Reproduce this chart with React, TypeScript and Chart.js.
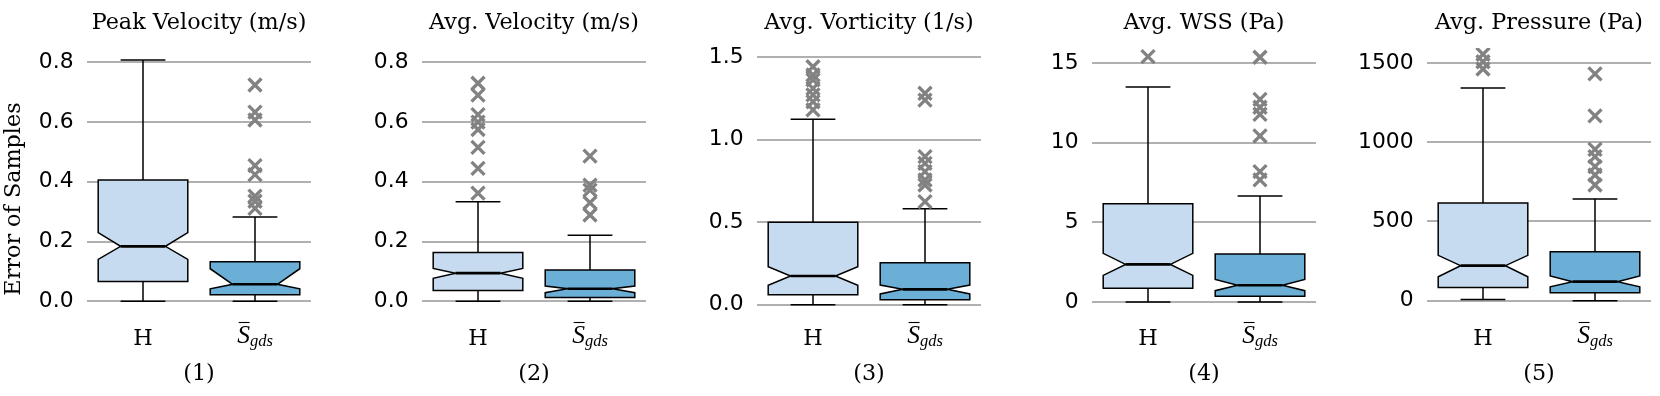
import React, { useEffect, useRef } from "react";
import { Chart, registerables } from "chart.js";

Chart.register(...registerables);

// ---------- data ----------
const panelTitles = [
  "Peak Velocity (m/s)",
  "Avg. Velocity (m/s)",
  "Avg. Vorticity (1/s)",
  "Avg. WSS (Pa)",
  "Avg. Pressure (Pa)",
];
const panelCaptions = ["(1)", "(2)", "(3)", "(4)", "(5)"];
const yAxisLabel = "Error of Samples";

// categories: "H" and "S̄_gds"
const categoryMain = ["H", "S"];
const categorySub = ["", "gds"];
const categoryPos = [1, 2];

// H statistics (per panel)
const hWhiskerLow = [0.0, 0.0, 0.0, 0.0, 8];
const hQ1 = [0.066, 0.036, 0.061, 0.86, 84];
const hNotchLow = [0.14, 0.077, 0.118, 1.67, 151];
const hMedian = [0.184, 0.094, 0.174, 2.36, 221];
const hNotchHigh = [0.23, 0.11, 0.23, 3.05, 286];
const hQ3 = [0.406, 0.163, 0.5, 6.17, 616];
const hWhiskerHigh = [0.808, 0.333, 1.124, 13.49, 1342];
const hOutliers = [
  [],
  [0.73, 0.69, 0.625, 0.6, 0.575, 0.515, 0.445, 0.362],
  [1.443, 1.393, 1.363, 1.312, 1.272, 1.231, 1.181],
  [15.4],
  [1555, 1508, 1462],
];

// S̄_gds statistics (per panel)
const sWhiskerLow = [0.0, 0.0, 0.0, 0.0, 0];
const sQ1 = [0.022, 0.013, 0.03, 0.36, 50];
const sNotchLow = [0.042, 0.029, 0.065, 0.71, 88];
const sMedian = [0.057, 0.042, 0.093, 1.05, 120];
const sNotchHigh = [0.109, 0.051, 0.119, 1.42, 156];
const sQ3 = [0.1326, 0.105, 0.255, 3.01, 309];
const sWhiskerHigh = [0.282, 0.221, 0.582, 6.65, 642];
const sOutliers = [
  [0.724, 0.633, 0.607, 0.454, 0.424, 0.352, 0.335, 0.311],
  [0.486, 0.389, 0.372, 0.33, 0.289],
  [1.282, 1.241, 0.898, 0.857, 0.807, 0.756, 0.726, 0.625],
  [15.36, 12.72, 12.22, 11.78, 10.42, 8.18, 7.66],
  [1431, 1166, 955, 909, 846, 793, 730],
];

// y axes
const yTicks = [
  [0, 0.2, 0.4, 0.6, 0.8],
  [0, 0.2, 0.4, 0.6, 0.8],
  [0, 0.5, 1.0, 1.5],
  [0, 5, 10, 15],
  [0, 500, 1000, 1500],
];
const yTickLabels = [
  ["0.0", "0.2", "0.4", "0.6", "0.8"],
  ["0.0", "0.2", "0.4", "0.6", "0.8"],
  ["0.0", "0.5", "1.0", "1.5"],
  ["0", "5", "10", "15"],
  ["0", "500", "1000", "1500"],
];
const yMin = [-0.0405, -0.0405, -0.0528, -0.7155, -80.1];
const yMax = [0.8479, 0.8479, 1.5567, 15.94, 1594.6];

// ---------- style ----------
const H_FILL = "#c6dbef";
const S_FILL = "#6baed6";
const OUTLIER = "#828282";
const GRID = "#b0b0b0";
const SERIF = "'DejaVu Serif', serif";
const SANS = "'DejaVu Sans', sans-serif";
const MATH = "'Liberation Serif', serif";
const SERIF_SIZE = 22.3;
const TICK_SIZE = 21.8;

const PANEL_STEP = 335;
const SIDE = 87;
const PLOT_W = 224;
const CANVAS_W = PLOT_W + 2 * SIDE;
const CANVAS_H = 396;
const PLOT_TOP = 48;
const PLOT_BOTTOM = 313.4;

const BOX_HALF = 0.4;
const CAP_HALF = 0.2;
const NOTCH_HALF = 0.2;

function makeConfig(i: number): any {
  const stats = [
    {
      pos: categoryPos[0],
      fill: H_FILL,
      v: [hWhiskerLow[i], hQ1[i], hNotchLow[i], hMedian[i], hNotchHigh[i], hQ3[i], hWhiskerHigh[i]],
    },
    {
      pos: categoryPos[1],
      fill: S_FILL,
      v: [sWhiskerLow[i], sQ1[i], sNotchLow[i], sMedian[i], sNotchHigh[i], sQ3[i], sWhiskerHigh[i]],
    },
  ];

  const boxPlugin = {
    id: "notchedBoxes",
    beforeDatasetsDraw(chart: any) {
      const { ctx } = chart;
      const xs = chart.scales.x;
      const ys = chart.scales.y;
      ctx.save();
      ctx.lineJoin = "miter";
      ctx.strokeStyle = "#000";
      for (const g of stats) {
        const [wl, q1, nl, md, nh, q3, wh] = g.v.map((v: number) => ys.getPixelForValue(v));
        const xc = xs.getPixelForValue(g.pos);
        const xl = xs.getPixelForValue(g.pos - BOX_HALF);
        const xr = xs.getPixelForValue(g.pos + BOX_HALF);
        const cl = xs.getPixelForValue(g.pos - CAP_HALF);
        const cr = xs.getPixelForValue(g.pos + CAP_HALF);
        const nl2 = xs.getPixelForValue(g.pos - NOTCH_HALF);
        const nr2 = xs.getPixelForValue(g.pos + NOTCH_HALF);
        // whiskers
        ctx.lineWidth = 1.5;
        ctx.beginPath();
        ctx.moveTo(xc, q3);
        ctx.lineTo(xc, wh);
        ctx.moveTo(cl, wh);
        ctx.lineTo(cr, wh);
        ctx.moveTo(xc, q1);
        ctx.lineTo(xc, wl);
        ctx.moveTo(cl, wl);
        ctx.lineTo(cr, wl);
        ctx.stroke();
        // notched box
        ctx.beginPath();
        ctx.moveTo(xl, q1);
        ctx.lineTo(xl, nl);
        ctx.lineTo(nl2, md);
        ctx.lineTo(xl, nh);
        ctx.lineTo(xl, q3);
        ctx.lineTo(xr, q3);
        ctx.lineTo(xr, nh);
        ctx.lineTo(nr2, md);
        ctx.lineTo(xr, nl);
        ctx.lineTo(xr, q1);
        ctx.closePath();
        ctx.fillStyle = g.fill;
        ctx.fill();
        ctx.lineWidth = 1.5;
        ctx.stroke();
        // median
        ctx.lineWidth = 2.7;
        ctx.beginPath();
        ctx.moveTo(nl2, md);
        ctx.lineTo(nr2, md);
        ctx.stroke();
      }
      ctx.restore();
    },
  };

  const textPlugin = {
    id: "panelTexts",
    afterDraw(chart: any) {
      const { ctx, chartArea } = chart;
      const xs = chart.scales.x;
      ctx.save();
      ctx.fillStyle = "#000";
      ctx.textBaseline = "alphabetic";
      // title
      ctx.font = `${SERIF_SIZE}px ${SERIF}`;
      ctx.textAlign = "center";
      ctx.fillText(panelTitles[i], (chartArea.left + chartArea.right) / 2, 28.5);
      // category labels
      for (let k = 0; k < categoryMain.length; k++) {
        const cx = xs.getPixelForValue(categoryPos[k]);
        if (!categorySub[k]) {
          ctx.font = `${SERIF_SIZE}px ${SERIF}`;
          ctx.textAlign = "center";
          ctx.fillText(categoryMain[k], cx, 345);
        } else {
          ctx.textAlign = "left";
          ctx.font = `italic 25.5px ${MATH}`;
          const wMain = ctx.measureText(categoryMain[k]).width;
          ctx.font = `italic 16.5px ${MATH}`;
          const wSub = ctx.measureText(categorySub[k]).width;
          const x0 = cx - (wMain + wSub) / 2;
          ctx.font = `italic 25.5px ${MATH}`;
          ctx.fillText(categoryMain[k], x0, 343.3);
          ctx.font = `italic 16.5px ${MATH}`;
          ctx.fillText(categorySub[k], x0 + wMain, 346.2);
          // overbar
          ctx.strokeStyle = "#000";
          ctx.lineWidth = 1.1;
          ctx.beginPath();
          ctx.moveTo(x0 + 1.5, 322.5);
          ctx.lineTo(x0 + wMain - 0.3, 322.5);
          ctx.stroke();
        }
      }
      // y-axis label on first panel
      if (i === 0) {
        ctx.translate(14.5, 199);
        ctx.rotate(-Math.PI / 2);
        ctx.font = `${SERIF_SIZE}px ${SERIF}`;
        ctx.textAlign = "center";
        ctx.textBaseline = "middle";
        ctx.fillText(yAxisLabel, 0, 0);
      }
      ctx.restore();
    },
  };

  return {
    type: "scatter",
    data: {
      datasets: [
        {
          label: categoryMain[0],
          data: hOutliers[i].map((v) => ({ x: categoryPos[0], y: v })),
        },
        {
          label: categoryMain[1] + categorySub[1],
          data: sOutliers[i].map((v) => ({ x: categoryPos[1], y: v })),
        },
      ].map((d) => ({
        ...d,
        pointStyle: "crossRot",
        pointRadius: 9.2,
        pointHoverRadius: 9.2,
        borderWidth: 3.3,
        borderColor: OUTLIER,
        backgroundColor: OUTLIER,
        showLine: false,
      })),
    },
    options: {
      responsive: false,
      animation: false,
      devicePixelRatio: 1,
      layout: { padding: { top: PLOT_TOP, right: SIDE, bottom: 0, left: 0 } },
      plugins: {
        legend: { display: false },
        tooltip: { enabled: false },
        title: { display: false },
      },
      events: [],
      scales: {
        x: {
          type: "linear",
          min: 0.5,
          max: 2.5,
          grid: { display: false },
          border: { display: false },
          ticks: { display: false },
          title: {
            display: true,
            text: panelCaptions[i],
            color: "#000",
            font: { family: SERIF, size: SERIF_SIZE, lineHeight: 1.2 },
            padding: { top: 0, bottom: 8.6 },
          },
          afterFit: (scale: any) => {
            scale.height = CANVAS_H - PLOT_BOTTOM;
          },
        },
        y: {
          type: "linear",
          min: yMin[i],
          max: yMax[i],
          afterBuildTicks: (scale: any) => {
            scale.ticks = yTicks[i].map((v) => ({ value: v }));
          },
          afterFit: (scale: any) => {
            scale.width = SIDE;
          },
          grid: { color: GRID, lineWidth: 2.1, drawTicks: false },
          border: { display: false },
          ticks: {
            color: "#000",
            padding: 13.5,
            font: { family: SANS, size: TICK_SIZE },
            callback: (_v: any, idx: number) => yTickLabels[i][idx],
          },
        },
      },
    },
    plugins: [boxPlugin, textPlugin],
  };
}

function Panel({ index }: { index: number }) {
  const ref = useRef<HTMLCanvasElement | null>(null);
  useEffect(() => {
    if (!ref.current) return;
    const chart = new Chart(ref.current, makeConfig(index));
    return () => chart.destroy();
  }, [index]);
  return (
    <div
      style={{
        position: "absolute",
        left: index * PANEL_STEP,
        top: 0,
        width: CANVAS_W,
        height: CANVAS_H,
      }}
    >
      <canvas ref={ref} width={CANVAS_W} height={CANVAS_H} style={{ display: "block" }} />
    </div>
  );
}

export default function App() {
  return (
    <div
      style={{
        position: "absolute",
        left: 0,
        top: 0,
        width: 1660,
        height: 396,
        overflow: "hidden",
        background: "#fff",
      }}
    >
      {panelTitles.map((_, i) => (
        <Panel key={i} index={i} />
      ))}
    </div>
  );
}
